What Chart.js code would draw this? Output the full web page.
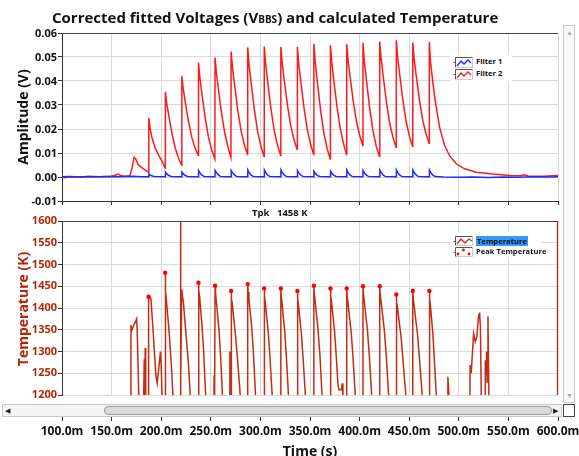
<!DOCTYPE html>
<html>
<head>
<meta charset="utf-8">
<script src="https://cdn.jsdelivr.net/npm/chart.js@4.4.1/dist/chart.umd.min.js"></script>
<style>
  body { margin: 0; background: #fff; font-family: "Open Sans", sans-serif; }
  #wrap { position: relative; width: 579px; height: 456px; overflow: hidden; }
  canvas { position: absolute; left: 0; z-index: 1; }
  .lbl { position: absolute; font-weight: 700; white-space: nowrap; color: #111; z-index: 2; }
  .rot { transform: translate(-50%, -50%) rotate(-90deg); }
  .vtick { position: absolute; z-index: 5; left: 0; width: 57px; text-align: right; font-size: 11px; font-weight: 700; color: #111; line-height: 14px; height: 14px; }
  .legend { position: absolute; background: #fff; z-index: 2; }
  .legend .row { position: absolute; left: 0; height: 11px; }
  .legend svg { position: absolute; left: 3px; top: 0; }
  .legend span { position: absolute; left: 26px; top: -2px; font-size: 7.6px; font-weight: 700; color: #111; white-space: nowrap; line-height: 13px; }
  .hbar { position: absolute; z-index: 2; left: 2px; top: 404px; width: 558px; height: 11px; border: 1px solid #c9c9c9; background: #f4f4f4; }
  .thumb { position: absolute; left: 101px; top: 1px; width: 446px; height: 7px; border: 1px solid #9a9a9a; border-radius: 4px; background: #dadada; }
  .vbar { position: absolute; z-index: 2; left: 563px; top: 25px; width: 10px; height: 376px; border: 1px solid #c9c9c9; background: #fafafa; }
  .arr { position: absolute; font-size: 7px; line-height: 7px; }
  .corner { position: absolute; z-index: 2; left: 563px; top: 404px; width: 10px; height: 11px; border: 1px solid #444; background: #fff; }
</style>
</head>
<body>
<div id="wrap">
  <canvas id="chartVolt" width="579" height="218" style="top:0"></canvas>
  <canvas id="chartTemp" width="579" height="246" style="top:210px"></canvas>

  <div class="lbl" id="title" style="left:52px; top:7px; font-size:15px;">Corrected fitted Voltages (V<span style="font-size:10px">BBS</span>) and calculated Temperature</div>
  <div class="lbl rot" style="left:22px; top:117px; font-size:14px;">Amplitude (V)</div>
  <div class="lbl rot" style="left:22px; top:309px; font-size:14px; color:#b0280a;">Temperature (K)</div>
  <div class="lbl" style="left:310px; top:450px; font-size:14px; transform:translate(-50%,-50%);">Time (s)</div>
  <div class="lbl" style="left:252px; top:206px; font-size:9.5px;">Tpk</div>
  <div class="lbl" id="tpk" style="left:277px; top:206px; font-size:9.5px;">1458 K</div>

  <div class="legend" style="left:450px; top:53px; width:62px; height:29px;">
    <div class="row" style="top:4px">
      <svg width="20" height="11"><path d="M0.5 5.5H2.5M2.5 0.5V10.5M2.5 0.5H19.5" stroke="#555" fill="none"/><path d="M2.5 10.5H19.5V0.5" stroke="#ccc" fill="none"/><polyline points="4,9 8,4 11,7 15,3 18,6" stroke="#1a2bff" stroke-width="1.3" fill="none"/></svg>
      <span>Filter 1</span>
    </div>
    <div class="row" style="top:16px">
      <svg width="20" height="11"><path d="M0.5 5.5H2.5M2.5 0.5V10.5M2.5 0.5H19.5" stroke="#555" fill="none"/><path d="M2.5 10.5H19.5V0.5" stroke="#ccc" fill="none"/><polyline points="4,9 8,4 11,7 15,3 18,6" stroke="#ff1a1a" stroke-width="1.3" fill="none"/></svg>
      <span>Filter 2</span>
    </div>
  </div>

  <div class="legend" style="left:450px; top:232px; width:92px; height:27px;">
    <div class="row" style="top:4px">
      <svg width="20" height="10"><path d="M0.5 5.5H2.5M2.5 0.5V9.5M2.5 0.5H19.5" stroke="#555" fill="none"/><path d="M2.5 9.5H19.5V0.5" stroke="#ccc" fill="none"/><polyline points="4,8 8,3 12,7 16,3 19,5" stroke="#c32d14" stroke-width="1.3" fill="none"/></svg>
      <span style="background:#3399ff; padding:0 1px; line-height:10px; top:0;">Temperature</span>
    </div>
    <div class="row" style="top:15px">
      <svg width="20" height="10"><path d="M0.5 5.5H2.5M2.5 0.5V9.5M2.5 0.5H19.5" stroke="#555" fill="none"/><path d="M2.5 9.5H19.5V0.5" stroke="#ccc" fill="none"/><circle cx="5" cy="7" r="1.4" fill="#ff0000"/><circle cx="10.5" cy="3" r="1.4" fill="#ff0000"/><circle cx="16" cy="7" r="1.4" fill="#ff0000"/></svg>
      <span>Peak Temperature</span>
    </div>
  </div>

  <div class="vbar">
    <div class="arr" style="left:2px; top:3px; color:#aaa;">&#9650;</div>
    <div class="arr" style="left:2px; top:366px; color:#aaa;">&#9660;</div>
  </div>
  <div class="hbar">
    <div class="arr" style="left:2px; top:2px; color:#222;">&#9664;</div>
    <div class="thumb"></div>
    <div class="arr" style="left:550px; top:2px; color:#222;">&#9654;</div>
  </div>
  <div class="corner"></div>
</div>

<script>
// tiempo en ms, amplitud en V
const filter1Pts = [
  [100,0.0001],[108,0.0002],[118,0.0000],[126,0.0002],[138,0.0001],[148,0.0002],[160,0.0001],[172,0.0003],[180,0.0001],[187.4,0.0001],
  [187.6,0.0013],[189.0,0.0008],[191.0,0.0004],[193.3,0.0002],[204.1,0.0001],
  [204.3,0.0021],[205.7,0.0013],[207.7,0.0006],[210.0,0.0002],[220.7,0.0001],
  [220.9,0.0021],[222.3,0.0013],[224.3,0.0006],[226.6,0.0002],[237.5,0.0001],
  [237.7,0.0027],[239.1,0.0017],[241.1,0.0008],[243.4,0.0002],[254.2,0.0001],
  [254.4,0.0027],[255.8,0.0017],[257.8,0.0008],[260.1,0.0002],[270.4,0.0001],
  [270.6,0.0027],[272.0,0.0017],[274.0,0.0008],[276.3,0.0002],[287.1,0.0001],
  [287.3,0.0029],[288.7,0.0018],[290.7,0.0008],[293.0,0.0002],[303.8,0.0001],
  [304.0,0.0029],[305.4,0.0018],[307.4,0.0008],[309.7,0.0002],[320.5,0.0001],
  [320.7,0.0029],[322.1,0.0018],[324.1,0.0008],[326.4,0.0002],[337.2,0.0001],
  [337.4,0.0027],[338.8,0.0017],[340.8,0.0008],[343.1,0.0002],[353.8,0.0001],
  [354.0,0.0024],[355.4,0.0015],[357.4,0.0007],[359.7,0.0002],[370.5,0.0001],
  [370.7,0.0024],[372.1,0.0015],[374.1,0.0007],[376.4,0.0002],[386.9,0.0001],
  [387.1,0.0029],[388.5,0.0018],[390.5,0.0008],[392.8,0.0002],[403.3,0.0001],
  [403.5,0.0027],[404.9,0.0017],[406.9,0.0008],[409.2,0.0002],[420.2,0.0001],
  [420.4,0.0029],[421.8,0.0018],[423.8,0.0008],[426.1,0.0002],[436.9,0.0001],
  [437.1,0.0029],[438.5,0.0018],[440.5,0.0008],[442.8,0.0002],[453.5,0.0001],
  [453.7,0.0029],[455.1,0.0018],[457.1,0.0008],[459.4,0.0002],[470.2,0.0001],
  [470.4,0.0029],[471.8,0.0018],[473.8,0.0008],[476.1,0.0002],[485,0.0000],[500,-0.0001],[515,0.0000],
  [530,-0.0002],[545,0.0000],[560,-0.0001],[575,0.0001],[590,0.0000],[600,0.0001]
];

const filter2Pts = [
  [100,0.0000],[103,-0.0003],[106,0.0000],[112,0.0001],[120,0.0000],[128,0.0002],[136,0.0001],[144,0.0002],
  [150,0.0003],[153.5,0.0007],[156.8,0.0012],[159.5,0.0005],[163,0.0003],[168.5,0.0005],[170.8,0.0040],
  [172.8,0.0082],[174.5,0.0074],[176.5,0.0053],[179.5,0.0042],[183.5,0.0030],[187.4,0.0020],
  [187.5,0.0246],[188.9,0.0200],[190.9,0.0160],[194.2,0.0118],[197.5,0.0090],[200.9,0.0065],[204.0,0.0036],
  [204.2,0.0355],[205.6,0.0306],[207.6,0.0257],[210.9,0.0181],[214.2,0.0120],[217.6,0.0077],[220.6,0.0050],
  [220.8,0.0420],[222.2,0.0367],[224.2,0.0314],[227.5,0.0232],[230.8,0.0166],[234.2,0.0120],[237.4,0.0090],
  [237.6,0.0477],[239.0,0.0413],[241.0,0.0348],[244.3,0.0248],[247.6,0.0167],[251.0,0.0111],[254.1,0.0075],
  [254.3,0.0498],[255.7,0.0431],[257.7,0.0365],[261.0,0.0261],[264.3,0.0178],[267.7,0.0119],[270.3,0.0082],
  [270.5,0.0523],[271.9,0.0454],[273.9,0.0386],[277.2,0.0278],[280.5,0.0193],[283.9,0.0133],[287.0,0.0094],
  [287.2,0.0540],[288.6,0.0467],[290.6,0.0394],[293.9,0.0281],[297.2,0.0190],[300.6,0.0126],[303.7,0.0085],
  [303.9,0.0544],[305.3,0.0471],[307.3,0.0399],[310.6,0.0285],[313.9,0.0194],[317.3,0.0131],[320.4,0.0090],
  [320.6,0.0542],[322.0,0.0474],[324.0,0.0405],[327.3,0.0299],[330.6,0.0213],[334.0,0.0153],[337.1,0.0115],
  [337.3,0.0542],[338.7,0.0470],[340.7,0.0399],[344.0,0.0287],[347.3,0.0197],[350.7,0.0134],[353.7,0.0094],
  [353.9,0.0555],[355.3,0.0478],[357.3,0.0401],[360.6,0.0281],[363.9,0.0185],[367.3,0.0118],[370.4,0.0075],
  [370.6,0.0549],[372.0,0.0476],[374.0,0.0403],[377.3,0.0290],[380.6,0.0199],[384.0,0.0135],[386.8,0.0094],
  [387.0,0.0553],[388.4,0.0485],[390.4,0.0418],[393.7,0.0312],[397.0,0.0228],[400.4,0.0169],[403.2,0.0131],
  [403.4,0.0559],[404.8,0.0483],[406.8,0.0407],[410.1,0.0289],[413.4,0.0194],[416.8,0.0128],[420.1,0.0085],
  [420.3,0.0564],[421.7,0.0494],[423.7,0.0423],[427.0,0.0313],[430.3,0.0225],[433.7,0.0164],[436.8,0.0124],
  [437.0,0.0570],[438.4,0.0499],[440.4,0.0428],[443.7,0.0317],[447.0,0.0229],[450.4,0.0167],[453.4,0.0127],
  [453.6,0.0559],[455.0,0.0492],[457.0,0.0425],[460.3,0.0321],[463.6,0.0237],[467.0,0.0179],[470.1,0.0141],
  [470.3,0.0562],[471.7,0.0470],[475.6,0.0334],[480.6,0.0208],[485.7,0.0131],[490.7,0.0089],[497.4,0.0055],
  [505.8,0.0034],[517.5,0.0020],[534.3,0.0012],[551.6,0.0006],[562,0.0005],[566,0.0009],[570,0.0004],
  [585.2,0.0003],[594,0.0005],[600,0.0006]
];

// temperatura en K (1190 = fuera de escala por debajo)
const temperaturePts = [
  [100,1190],[169.4,1190],[169.5,1361],[170.3,1349],[172.0,1358],[175.2,1375],[175.8,1349],[177.5,1190],
  [182.3,1190],[182.9,1282],[183.3,1200],[183.9,1308],[184.4,1190],
  [187.2,1190],[187.3,1426],[189.6,1422],[191.9,1345],[194.6,1246],[195.9,1227],[197.6,1262],[199.3,1300],[199.8,1280],[201.0,1190],
  [203.9,1190],[204.0,1481],[204.6,1440],[205.4,1414],[208.0,1345],[210.2,1270],[212.1,1190],
  [219.4,1190],[219.5,1700],[219.8,1235],[220.7,1443],[221.3,1430],[222.5,1410],[225.0,1340],[227.5,1270],[229.5,1190],
  [237.5,1190],[237.6,1458],[238.1,1440],[238.8,1425],[239.7,1398],[241.2,1358],[242.8,1300],[245.0,1190],
  [253.2,1190],[253.3,1245],[253.5,1190],[254.2,1190],[254.3,1451],[254.8,1433],[255.6,1416],[256.6,1391],[258.2,1351],[259.9,1290],[261.9,1190],
  [269.0,1190],[269.1,1300],[269.3,1190],[270.4,1190],[270.5,1439],[271.0,1422],[271.9,1405],[273.1,1378],[275.0,1335],[277.2,1275],[280.0,1190],
  [287.1,1190],[287.2,1455],[287.7,1437],[288.5,1420],[289.5,1395],[291.3,1355],[293.0,1295],[295.3,1190],
  [303.7,1190],[303.8,1445],[304.3,1427],[305.1,1410],[306.1,1385],[307.9,1345],[309.7,1285],[312.1,1190],
  [320.5,1190],[320.6,1445],[321.1,1427],[321.9,1410],[322.9,1384],[324.6,1345],[326.3,1284],[328.5,1190],
  [337.2,1190],[337.3,1439],[337.8,1421],[338.6,1404],[339.6,1379],[341.4,1339],[343.2,1279],[345.6,1190],
  [353.8,1190],[353.9,1451],[354.4,1433],[355.2,1416],[356.3,1391],[358.1,1351],[360.0,1291],[362.4,1190],
  [370.5,1190],[370.6,1445],[371.1,1427],[371.9,1410],[373.0,1385],[374.8,1345],[376.6,1285],[378.1,1227],[379.1,1212],[381.5,1212],[382.5,1227],[383.2,1190],
  [386.9,1190],[387.0,1445],[387.5,1427],[388.4,1410],[389.5,1385],[391.5,1345],[393.4,1285],[395.9,1190],
  [403.3,1190],[403.4,1450],[403.9,1432],[404.8,1415],[405.9,1390],[407.9,1350],[409.8,1290],[412.4,1190],
  [420.2,1190],[420.3,1450],[420.8,1432],[421.7,1415],[422.9,1390],[424.9,1350],[426.9,1290],[429.5,1190],
  [436.9,1190],[437.0,1431],[437.5,1414],[438.5,1397],[439.7,1372],[441.9,1332],[444.0,1272],[447.0,1190],
  [453.5,1190],[453.6,1439],[454.1,1421],[455.1,1404],[456.3,1379],[458.4,1339],[460.5,1279],[463.4,1190],
  [470.2,1190],[470.3,1439],[470.8,1421],[471.5,1404],[472.4,1379],[473.9,1339],[475.4,1279],[477.5,1190],
  [488.6,1190],[489.0,1242],[489.6,1220],[490.2,1190],
  [511.2,1190],[511.4,1269],[512.5,1250],[514.9,1341],[516.6,1322],[518.2,1334],[520.0,1384],[521.0,1387],[521.8,1357],[522.7,1190],
  [526.5,1190],[526.7,1280],[527.5,1250],[528.0,1300],[528.5,1230],[529.4,1381],[530.4,1190],
  [599.5,1190],[599.6,1700]
];

const peakPts = [
  [187.3,1426],[204.0,1481],[237.6,1458],[254.3,1451],[270.5,1439],[287.2,1455],[303.8,1445],[320.6,1445],
  [337.3,1439],[353.9,1451],[370.6,1445],[387.0,1445],[403.4,1450],[420.3,1450],[437.0,1431],[453.6,1439],[470.3,1439]
];

// marcas de los ejes
const timeTicks = [100, 150, 200, 250, 300, 350, 400, 450, 500, 550, 600];
const voltTicks = [-0.01, 0.00, 0.01, 0.02, 0.03, 0.04, 0.05, 0.06];
const tempTicks = [1200, 1250, 1300, 1350, 1400, 1450, 1500, 1550, 1600];

const toXY = pts => pts.map(p => ({ x: p[0], y: p[1] }));
const setTicks = list => s => { s.ticks = list.map(v => ({ value: v })); };

const gridGray = '#dadada';
const axisDark = '#333';
const tickFont = { family: 'Open Sans', size: 11, weight: 'bold' };

// línea superior del marco
const frameTop = {
  id: 'frameTop',
  afterDraw(chart) {
    const { ctx, chartArea: a } = chart;
    ctx.save();
    ctx.strokeStyle = '#444';
    ctx.lineWidth = 1;
    ctx.beginPath();
    ctx.moveTo(a.left, Math.round(a.top) + 0.5);
    ctx.lineTo(a.right, Math.round(a.top) + 0.5);
    ctx.stroke();
    ctx.restore();
  }
};

function fixWidth(w) {
  return s => { s.width = w; s.paddingTop = 0; s.paddingBottom = 0; };
}
function fixHeight(h) {
  return s => { s.height = h; s.paddingLeft = 0; s.paddingRight = 0; };
}

const voltChart = new Chart(document.getElementById('chartVolt'), {
  type: 'line',
  data: {
    datasets: [
      { label: 'Filter 2', data: toXY(filter2Pts), borderColor: '#ff1a1a', borderWidth: 1.5, order: 2 },
      { label: 'Filter 1', data: toXY(filter1Pts), borderColor: '#1a2bff', borderWidth: 1.5, order: 1 }
    ]
  },
  options: {
    responsive: false,
    animation: false,
    layout: { padding: { top: 33, right: 21, left: 0, bottom: 0 } },
    elements: { point: { radius: 0 }, line: { tension: 0 } },
    plugins: { legend: { display: false }, tooltip: { enabled: false } },
    scales: {
      x: {
        type: 'linear', min: timeTicks[0], max: timeTicks[timeTicks.length - 1],
        afterBuildTicks: setTicks(timeTicks),
        ticks: { display: false },
        grid: { color: gridGray, tickLength: 4, tickColor: axisDark },
        border: { color: axisDark },
        afterFit: fixHeight(17)
      },
      y: {
        min: voltTicks[0], max: voltTicks[voltTicks.length - 1],
        afterBuildTicks: setTicks(voltTicks),
        ticks: { display: false },
        grid: { color: gridGray, tickLength: 4, tickColor: axisDark },
        border: { color: axisDark },
        afterFit: fixWidth(62)
      }
    }
  },
  plugins: [frameTop]
});

// etiquetas del eje de amplitud como texto, colocadas con la escala de Chart.js
const wrap = document.getElementById('wrap');
voltTicks.forEach(v => {
  const d = document.createElement('div');
  d.className = 'vtick';
  d.style.top = Math.round(voltChart.scales.y.getPixelForValue(v) - 7) + 'px';
  d.textContent = v.toFixed(2);
  wrap.appendChild(d);
});

new Chart(document.getElementById('chartTemp'), {
  type: 'line',
  data: {
    datasets: [
      { label: 'Peak Temperature', data: toXY(peakPts), showLine: false, pointRadius: 2.2,
        pointBackgroundColor: '#ff0000', pointBorderWidth: 0, order: 1 },
      { label: 'Temperature', data: toXY(temperaturePts), borderColor: '#c32d14', borderWidth: 1.5,
        pointRadius: 0, clip: 0, order: 2 }
    ]
  },
  options: {
    responsive: false,
    animation: false,
    layout: { padding: { top: 11, right: 21, left: 0, bottom: 0 } },
    elements: { line: { tension: 0 } },
    plugins: { legend: { display: false }, tooltip: { enabled: false } },
    scales: {
      x: {
        type: 'linear', min: timeTicks[0], max: timeTicks[timeTicks.length - 1],
        afterBuildTicks: setTicks(timeTicks),
        ticks: { display: false },
        grid: { color: gridGray, drawTicks: false },
        border: { display: false },
        afterFit: fixHeight(22)
      },
      x2: {
        type: 'linear', axis: 'x', position: 'bottom', min: timeTicks[0], max: timeTicks[timeTicks.length - 1],
        afterBuildTicks: setTicks(timeTicks),
        ticks: { font: { family: 'Open Sans', size: 12, weight: 'bold' }, color: '#111',
                 padding: 3, autoSkip: false, maxRotation: 0, callback: v => v.toFixed(1) + 'm' },
        grid: { drawOnChartArea: false, tickLength: 4, tickColor: axisDark },
        border: { display: false },
        afterFit: fixHeight(39)
      },
      y: {
        min: tempTicks[0], max: tempTicks[tempTicks.length - 1],
        afterBuildTicks: setTicks(tempTicks),
        ticks: { font: tickFont, color: '#b0280a', padding: 1, autoSkip: false, callback: v => String(v) },
        grid: { color: gridGray, tickLength: 4, tickColor: axisDark },
        border: { color: axisDark },
        afterFit: fixWidth(62)
      }
    }
  },
  plugins: [frameTop]
});
</script>
